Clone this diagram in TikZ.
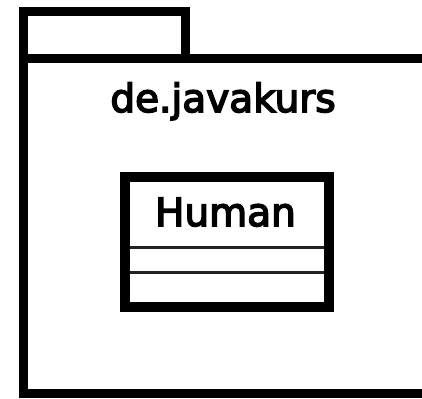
\documentclass[tikz,border=0pt]{standalone}
\usepackage{fontspec}
\setmainfont{DejaVu Sans}
\newfontfamily\labelfont{DejaVu Sans}[FakeBold=4]
\begin{document}
\begin{tikzpicture}[x=1pt,y=-1pt,
  thick border/.style={draw=black,line width=9.5pt},
  sep line/.style={draw={rgb,255:red,34;green,34;blue,34},line width=3pt},
  label text/.style={font=\labelfont\fontsize{39}{39}\selectfont,inner sep=0pt,anchor=base}]
\useasboundingbox (0,0) rectangle (422,398);
\clip (0,0) rectangle (422,398);
\fill[white] (0,0) rectangle (422,398);
% package tab
\draw[thick border,line join=miter] (23.5,58.5) -- (23.5,11.5) -- (185.5,11.5) -- (185.5,58.5);
% package body
\draw[thick border,line join=miter] (450,58.5) -- (23.5,58.5) -- (23.5,393.5) -- (450,393.5);
\node[label text] (pkg) at (223,112) {de.javakurs};
% class box
\draw[thick border,line width=10pt] (125,177) rectangle (329,307);
\draw[sep line] (130,247.5) -- (324,247.5);
\draw[sep line] (130,272.5) -- (324,272.5);
\node[label text] (human) at (225.5,226) {Human};
\end{tikzpicture}
\end{document}
